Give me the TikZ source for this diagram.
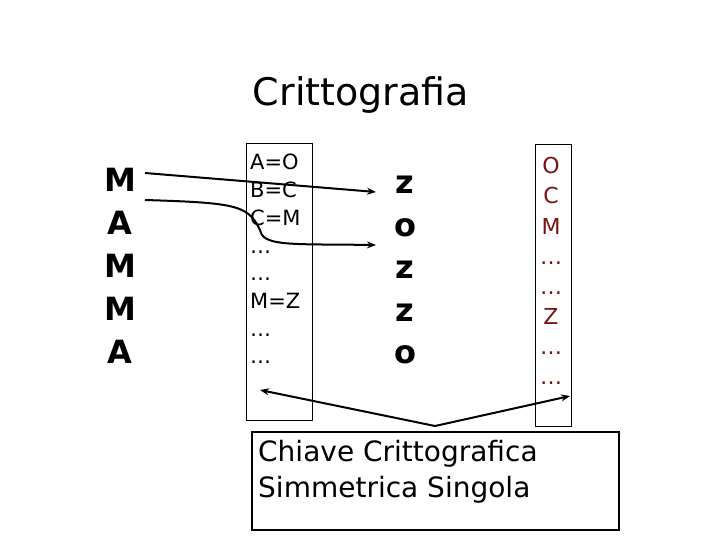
\documentclass[tikz,border=0pt]{standalone}
\usepackage{fontspec}
\setmainfont{DejaVu Sans}
\usetikzlibrary{arrows.meta}
\definecolor{dred}{RGB}{120,20,20}
\begin{document}
\begin{tikzpicture}[x=1pt,y=-1pt,
  big/.style={font=\fontsize{32}{32}\selectfont\bfseries, inner sep=0},
  cell/.style={font=\fontsize{21}{21}\selectfont, inner sep=0, anchor=base west},
  rcell/.style={font=\fontsize{22}{22}\selectfont, inner sep=0, text=dred, anchor=base},
  box/.style={draw, line width=1pt},
  arr/.style={line width=2pt, -{Stealth[length=9pt,width=7pt]}}]
\useasboundingbox (0,0) rectangle (720,540);
\node[font=\fontsize{38}{38}\selectfont] (title) at (361,95) {Crittografia};
\foreach \t [count=\i] in {M,A,M,M,A}
  \node[big] (L\i) at (120,180+43*\i-43) {\t};
\node[box, minimum width=66pt, minimum height=276pt, inner sep=0] (b1) at (279,282) {};
\foreach \t [count=\i] in {A=O,B=C,C=M,…,…,M=Z,…,…}
  \node[cell] (c\i) at (250,170+27.7*\i-27.7) {\t};
\foreach \t [count=\i] in {z,o,z,z,o}
  \node[big] (z\i) at (405,185+42.5*\i-42.5) {\t};
\node[box, minimum width=36pt, minimum height=281pt, inner sep=0] (b2) at (553,285.5) {};
\foreach \t [count=\i] in {O,C,M,…,…,Z,…,…}
  \node[rcell] (r\i) at (551,174+30*\i-30) {\t};
\node[draw, line width=2pt, minimum width=367pt, minimum height=98pt, inner sep=0] (b3) at (435.5,481) {};
\node[font=\fontsize{28}{36}\selectfont, align=left, anchor=north west, inner sep=0] (key) at (258,440) {Chiave Crittografica\\Simmetrica Singola};
\coordinate (s1) at (145,173);
\coordinate (s2) at (145,200);
\coordinate (e1) at (376,192);
\coordinate (e2) at (376,245);
\coordinate (k) at (435,426);
\coordinate (ka) at (260,390);
\coordinate (kb) at (570,396);
\draw[arr] (s1) -- (e1);
\draw[arr] (s2) .. controls (240,203) and (250,205) .. (262,235) .. controls (270,246) and (300,244) .. (e2);
\draw[arr] (k) -- (ka);
\draw[arr] (k) -- (kb);
\end{tikzpicture}
\end{document}
